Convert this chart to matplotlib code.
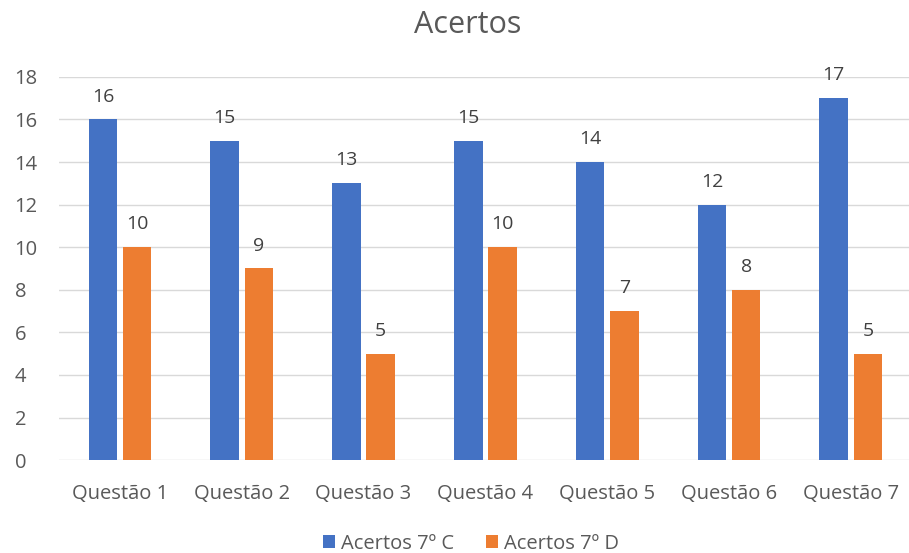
import numpy as np
import matplotlib
matplotlib.use("Agg")
import matplotlib.pyplot as plt

plt.rcParams['font.family'] = ['Open Sans', 'DejaVu Sans']

# dados
questoes = ['Questão 1', 'Questão 2', 'Questão 3', 'Questão 4',
            'Questão 5', 'Questão 6', 'Questão 7']
acertos_c = [16, 15, 13, 15, 14, 12, 17]
acertos_d = [10, 9, 5, 10, 7, 8, 5]

azul = '#4472C4'
laranja = '#ED7D31'
cinza = '#595959'

fig = plt.figure(figsize=(9.09, 5.53), dpi=100)
ax = fig.add_axes([0.065, 0.168, 0.938, 0.693])

x = np.arange(len(questoes))
w = 0.235
off = 0.14
b1 = ax.bar(x - off, acertos_c, w, color=azul, label='Acertos 7º C', zorder=3)
b2 = ax.bar(x + off, acertos_d, w, color=laranja, label='Acertos 7º D', zorder=3)

for bars in (b1, b2):
    for b in bars:
        ax.annotate(f'{int(b.get_height())}',
                    (b.get_x() + b.get_width() / 2, b.get_height()),
                    xytext=(0, 10), textcoords='offset points',
                    ha='center', va='bottom', fontsize=14, color='#404040')

ax.set_xlim(-0.5, len(questoes) - 0.5)
ax.set_ylim(0, 18)
ax.set_yticks(range(0, 19, 2))
ax.set_xticks(x)
ax.set_xticklabels(questoes)
ax.tick_params(axis='both', length=0, labelsize=14.5, colors=cinza)
ax.tick_params(axis='x', pad=17)
ax.tick_params(axis='y', pad=32)
for lbl in ax.get_yticklabels():
    lbl.set_horizontalalignment('left')
ax.yaxis.grid(True, color='#D9D9D9', linewidth=1, zorder=0)
for s in ax.spines.values():
    s.set_visible(False)

fig.suptitle('Acertos', x=0.515, y=0.955, va='center', fontsize=22, color=cinza)
fig.legend(handles=[b1, b2], loc='lower center', bbox_to_anchor=(0.518, -0.034),
           ncol=2, frameon=False, fontsize=14.5, labelcolor=cinza,
           handlelength=0.6, handleheight=0.6, handletextpad=0.3, columnspacing=1.6)

fig.savefig('out.png', dpi=100)
